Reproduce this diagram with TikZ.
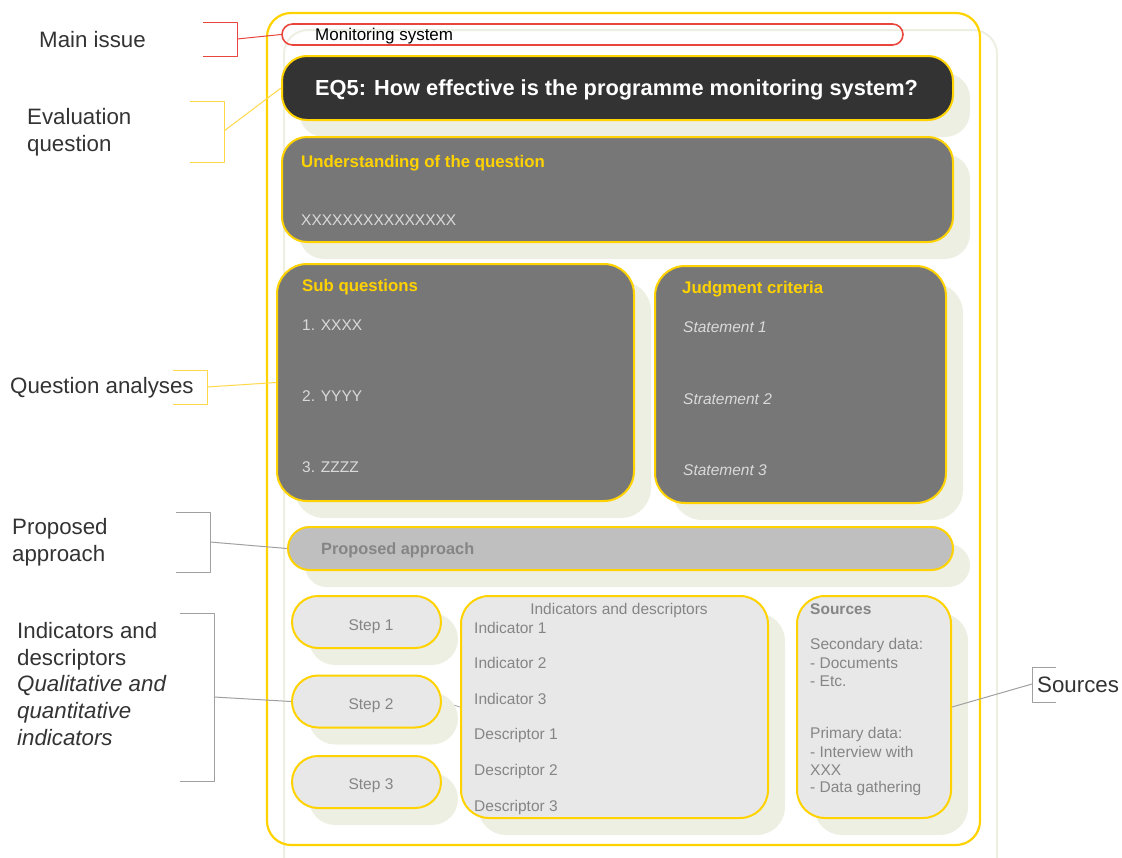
\documentclass[tikz,border=0pt]{standalone}
\usepackage{fontspec}
\setmainfont{Liberation Sans}
\usetikzlibrary{shadows,backgrounds}
\definecolor{gold}{HTML}{FFD200}
\definecolor{paleyellow}{HTML}{FFD84A}
\definecolor{shadowbg}{HTML}{EEEFE3}
\definecolor{redline}{HTML}{E8463C}
\definecolor{darkbox}{HTML}{333333}
\definecolor{midbox}{HTML}{777777}
\definecolor{lightbox}{HTML}{E8E8E8}
\definecolor{pillbox}{HTML}{BFBFBF}
\definecolor{greytext}{HTML}{858585}
\definecolor{labeltext}{HTML}{333333}
\definecolor{paletext}{HTML}{DADADA}
\definecolor{greyline}{HTML}{A0A0A0}

\begin{document}
\begin{tikzpicture}[x=1pt, y=-1pt, line join=round,
	card/.style={draw=gold, line width=2, rounded corners=#1, inner sep=0pt,
		drop shadow={shadow xshift=17pt, shadow yshift=-17pt, opacity=1, fill=shadowbg, draw=none}},
	stepbox/.style={card=26, fill=lightbox, minimum width=149, minimum height=52},
	side/.style={anchor=west, align=left, inner sep=0pt, text=labeltext, font=\fontsize{22.3}{26.7}\selectfont},
	head/.style={anchor=west, inner sep=0pt, text=gold, font=\fontsize{16.8}{19}\selectfont\bfseries},
	item/.style={anchor=west, inner sep=0pt, text=paletext, font=\fontsize{15.5}{18}\selectfont},
	greyitem/.style={item, text=greytext},
	bracket/.style={line width=1},
]
	\useasboundingbox (0,0) rectangle (1122,857);

	% outer frame and its shadow
	\draw[shadowbg, line width=2, rounded corners=24] (284,30) rectangle (997,885);
	\draw[gold, line width=2.2, rounded corners=24] (267,13) rectangle (980,845);

	% main issue
	\node[draw=redline, line width=1.6, rounded corners=10.5, minimum width=621, minimum height=21] (issue) at (592.5,34.5) {};
	\node[anchor=west, inner sep=0pt, font=\fontsize{17}{18}\selectfont] (issuetxt) at (315,36) {Monitoring system};

	% evaluation question
	\node[card=25, fill=darkbox, minimum width=671, minimum height=64] (eq) at (617.5,88) {};
	\node[anchor=west, inner sep=0pt, text=white, font=\fontsize{21.8}{26}\selectfont\bfseries] (eqtxt) at (315,90) {EQ5: How effective is the programme monitoring system?};

	% understanding of the question
	\node[card=25, fill=midbox, minimum width=671, minimum height=105] (und) at (617.5,189.5) {};
	\node[head] (undhead) at (301,163) {Understanding of the question};
	\node[item] (undtxt) at (301,220) {XXXXXXXXXXXXXXX};

	% sub questions
	\node[card=30, fill=midbox, minimum width=357, minimum height=237] (subq) at (455.5,382.5) {};
	\node[head] (subqhead) at (302,287) {Sub questions};
	\node[item] (subq1) at (302,325) {1. XXXX};
	\node[item] (subq2) at (302,396) {2. YYYY};
	\node[item] (subq3) at (302,467) {3. ZZZZ};

	% judgment criteria
	\node[card=30, fill=midbox, minimum width=291, minimum height=237] (judg) at (800.5,384.5) {};
	\node[head] (judghead) at (682,289) {Judgment criteria};
	\node[item, font=\fontsize{15.5}{18}\selectfont\itshape] (judg1) at (683,327) {Statement 1};
	\node[item, font=\fontsize{15.5}{18}\selectfont\itshape] (judg2) at (683,399) {Stratement 2};
	\node[item, font=\fontsize{15.5}{18}\selectfont\itshape] (judg3) at (683,470) {Statement 3};

	% proposed approach
	\node[card=21.5, fill=pillbox, minimum width=665, minimum height=43] (appr) at (620.5,548.5) {};
	\node[greyitem, font=\fontsize{16.3}{19}\selectfont\bfseries] (apprtxt) at (321,550) {Proposed approach};

	% steps
	\node[stepbox] (step1) at (366.5,622) {};
	\node[stepbox] (step2) at (366.5,701.5) {};
	\node[stepbox] (step3) at (366.5,782) {};
	\node[greyitem, anchor=center] (step1txt) at (371,627) {Step 1};
	\node[greyitem, anchor=center] (step2txt) at (371,706) {Step 2};
	\node[greyitem, anchor=center] (step3txt) at (371,786) {Step 3};

	% indicators and descriptors
	\node[card=28, fill=lightbox, minimum width=307, minimum height=222] (ind) at (614.5,707) {};
	\node[greyitem, anchor=center] (indhead) at (619,610) {Indicators and descriptors};
	\node[greyitem] (ind1) at (474,628) {Indicator 1};
	\node[greyitem] (ind2) at (474,663) {Indicator 2};
	\node[greyitem] (ind3) at (474,699) {Indicator 3};
	\node[greyitem] (desc1) at (474,735) {Descriptor 1};
	\node[greyitem] (desc2) at (474,771) {Descriptor 2};
	\node[greyitem] (desc3) at (474,807) {Descriptor 3};

	% sources
	\node[card=28, fill=lightbox, minimum width=154, minimum height=222] (src) at (874,707) {};
	\node[greyitem, font=\fontsize{15.5}{18}\selectfont\bfseries] (srchead) at (810,609) {Sources};
	\node[greyitem] (src1) at (810,645) {Secondary data:};
	\node[greyitem] (src2) at (810,663) {- Documents};
	\node[greyitem] (src3) at (810,681) {- Etc.};
	\node[greyitem] (src4) at (810,734) {Primary data:};
	\node[greyitem] (src5) at (810,752) {- Interview with};
	\node[greyitem] (src6) at (810,770) {XXX};
	\node[greyitem] (src7) at (810,788) {- Data gathering};

	\begin{scope}[on background layer]
		\draw[greyline, line width=.8] (step2.east) -- (ind.west);
	\end{scope}

	% labels on the sides
	\node[side] (lmain) at (39,40) {Main issue};
	\node[side] (leval) at (27,132) {Evaluation\\question};
	\node[side] (lqa) at (10,388) {Question analyses};
	\node[side] (lappr) at (12,542) {Proposed\\approach};
	\node[side] (lind) at (17,684) {Indicators and\\descriptors\\\textit{Qualitative and}\\\textit{quantitative}\\\textit{indicators}};
	\node[side] (lsrc) at (1037,685) {Sources};

	\path
		(237,39) coordinate (bmain)
		(224,131) coordinate (beval)
		(207,387) coordinate (bqa)
		(210,542) coordinate (bappr)
		(214,697) coordinate (bind)
		(1032,684) coordinate (bsrc)
	;
	\draw[redline, bracket] (203,22) -| (237,56) -- (203,56);
	\draw[redline, bracket] (bmain) -- (issue.west);
	\draw[paleyellow, bracket] (190,101) -| (224,162) -- (190,162);
	\draw[paleyellow, bracket] (beval) -- (eq.west);
	\draw[paleyellow, bracket] (173,370) -| (207,404) -- (173,404);
	\draw[paleyellow, bracket] (bqa) -- (subq.west);
	\draw[greyline, bracket] (176,512) -| (210,572) -- (176,572);
	\draw[greyline, bracket] (bappr) -- (appr.west);
	\draw[greyline, bracket] (180,613) -| (214,781) -- (180,781);
	\draw[greyline, bracket] (bind) -- (step2.west);
	\draw[greyline, bracket] (1056,667) -| (1032,702) -- (1056,702);
	\draw[greyline, bracket] (bsrc) -- (src.east);
\end{tikzpicture}
\end{document}
